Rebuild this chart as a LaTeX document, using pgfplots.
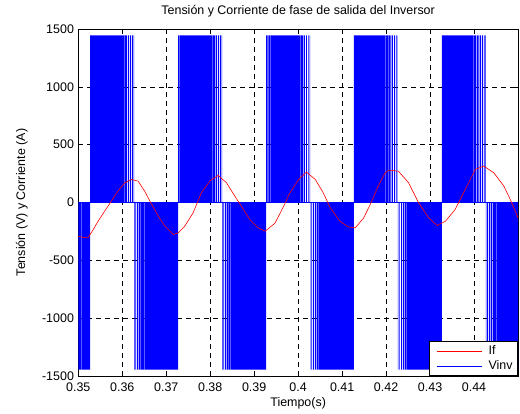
\documentclass[border=0pt]{standalone}
\usepackage{fontspec}
\setmainfont{Liberation Sans}
\usepackage{pgfplots}
\pgfplotsset{compat=1.18}
\begin{document}
\fontsize{12.5}{15}\selectfont
\begin{tikzpicture}
\path[use as bounding box] (-78.3bp,-38bp) rectangle (441.7bp,376bp);
\begin{axis}[
  at={(0,0)}, anchor=south west,
  scale only axis, width=439.7bp, height=347bp,
  xmin=0.35, xmax=0.45, ymin=-1500, ymax=1500,
  xtick={0.35,0.36,0.37,0.38,0.39,0.40,0.41,0.42,0.43,0.44},
  ytick={-1500,-1000,-500,0,500,1000,1500},
  tick align=inside, major tick length=5bp,
  grid=major,
  major grid style={black, line width=0.5bp, dash pattern=on 5bp off 4bp},
  axis line style={black, line width=0.9bp},
  tick style={black, line width=0.6bp},
  /pgf/number format/assume math mode=true,
  xticklabel style={/pgf/number format/fixed, /pgf/number format/precision=2, font=\fontsize{12.5}{15}\selectfont, yshift=-2bp},
  yticklabel style={/pgf/number format/1000 sep={}, font=\fontsize{12.5}{15}\selectfont},
  title={Tensión y Corriente de fase de salida del Inversor},
  title style={font=\fontsize{12.5}{15}\selectfont, yshift=2bp},
  xlabel={Tiempo(s)},
  xlabel style={yshift=2bp},
  ylabel={Tensión (V) y Corriente (A)},
  ylabel style={yshift=6bp},
  label style={font=\fontsize{12.5}{15}\selectfont},
  pwm/.style={const plot, fill=blue, draw=none, forget plot},
  legend style={at={(1,0)}, anchor=south east, draw=black, line width=0.8bp, fill=white,
    font=\fontsize{12.5}{15}\selectfont, legend cell align=left},
  legend image code/.code={\draw[#1, line width=0.6bp] (0bp,0bp) -- (45bp,0bp); \path[draw=none, fill=none] (-4bp,-3bp) rectangle (50bp,3bp);},
]
% negative burst 0
\addplot[pwm] coordinates {(0.35000,-1445)(0.35070,0)(0.35080,-1445)(0.35147,0)(0.35157,-1445)(0.35210,0)(0.35215,-1445)(0.35270,-1445)} \closedcycle;
% positive bursts
\addplot[pwm] coordinates {(0.35270,1445)(0.35290,0)(0.35298,1445)(0.35325,0)(0.35332,1445)(0.35365,0)(0.35372,1445)(0.35410,0)(0.35416,1445)(0.35460,0)(0.35465,1445)(0.35520,0)(0.35525,1445)(0.35590,0)(0.35594,1445)(0.35700,0)(0.35703,1445)(0.35890,0)(0.35894,1445)(0.35980,0)(0.35988,1445)(0.36050,0)(0.36062,1445)(0.36105,0)(0.36125,1445)(0.36155,0)(0.36180,1445)(0.36200,0)(0.36225,1445)(0.36240,0)(0.36260,1445)(0.36270,1445)} \closedcycle;
\addplot[pwm] coordinates {(0.37270,1445)(0.37290,0)(0.37298,1445)(0.37325,0)(0.37332,1445)(0.37365,0)(0.37372,1445)(0.37410,0)(0.37416,1445)(0.37460,0)(0.37465,1445)(0.37520,0)(0.37525,1445)(0.37590,0)(0.37594,1445)(0.37700,0)(0.37703,1445)(0.37890,0)(0.37894,1445)(0.37980,0)(0.37988,1445)(0.38050,0)(0.38062,1445)(0.38105,0)(0.38125,1445)(0.38155,0)(0.38180,1445)(0.38200,0)(0.38225,1445)(0.38240,0)(0.38260,1445)(0.38270,1445)} \closedcycle;
\addplot[pwm] coordinates {(0.39270,1445)(0.39290,0)(0.39298,1445)(0.39325,0)(0.39332,1445)(0.39365,0)(0.39372,1445)(0.39410,0)(0.39416,1445)(0.39460,0)(0.39465,1445)(0.39520,0)(0.39525,1445)(0.39590,0)(0.39594,1445)(0.39700,0)(0.39703,1445)(0.39890,0)(0.39894,1445)(0.39980,0)(0.39988,1445)(0.40050,0)(0.40062,1445)(0.40105,0)(0.40125,1445)(0.40155,0)(0.40180,1445)(0.40200,0)(0.40225,1445)(0.40240,0)(0.40260,1445)(0.40270,1445)} \closedcycle;
\addplot[pwm] coordinates {(0.41270,1445)(0.41290,0)(0.41298,1445)(0.41325,0)(0.41332,1445)(0.41365,0)(0.41372,1445)(0.41410,0)(0.41416,1445)(0.41460,0)(0.41465,1445)(0.41520,0)(0.41525,1445)(0.41590,0)(0.41594,1445)(0.41700,0)(0.41703,1445)(0.41890,0)(0.41894,1445)(0.41980,0)(0.41988,1445)(0.42050,0)(0.42062,1445)(0.42105,0)(0.42125,1445)(0.42155,0)(0.42180,1445)(0.42200,0)(0.42225,1445)(0.42240,0)(0.42260,1445)(0.42270,1445)} \closedcycle;
\addplot[pwm] coordinates {(0.43270,1445)(0.43290,0)(0.43298,1445)(0.43325,0)(0.43332,1445)(0.43365,0)(0.43372,1445)(0.43410,0)(0.43416,1445)(0.43460,0)(0.43465,1445)(0.43520,0)(0.43525,1445)(0.43590,0)(0.43594,1445)(0.43700,0)(0.43703,1445)(0.43890,0)(0.43894,1445)(0.43980,0)(0.43988,1445)(0.44050,0)(0.44062,1445)(0.44105,0)(0.44125,1445)(0.44155,0)(0.44180,1445)(0.44200,0)(0.44225,1445)(0.44240,0)(0.44260,1445)(0.44270,1445)} \closedcycle;
% negative bursts
\addplot[pwm] coordinates {(0.36270,-1445)(0.36280,0)(0.36300,-1445)(0.36315,0)(0.36340,-1445)(0.36360,0)(0.36380,-1445)(0.36405,0)(0.36420,-1445)(0.36455,0)(0.36465,-1445)(0.36510,0)(0.36517,-1445)(0.36580,0)(0.36585,-1445)(0.36670,0)(0.36673,-1445)(0.36850,0)(0.36853,-1445)(0.36950,0)(0.36955,-1445)(0.37020,0)(0.37025,-1445)(0.37080,0)(0.37086,-1445)(0.37130,0)(0.37136,-1445)(0.37180,0)(0.37186,-1445)(0.37225,0)(0.37230,-1445)(0.37270,-1445)} \closedcycle;
\addplot[pwm] coordinates {(0.38270,-1445)(0.38280,0)(0.38300,-1445)(0.38315,0)(0.38340,-1445)(0.38360,0)(0.38380,-1445)(0.38405,0)(0.38420,-1445)(0.38455,0)(0.38465,-1445)(0.38510,0)(0.38517,-1445)(0.38580,0)(0.38585,-1445)(0.38670,0)(0.38673,-1445)(0.38850,0)(0.38853,-1445)(0.38950,0)(0.38955,-1445)(0.39020,0)(0.39025,-1445)(0.39080,0)(0.39086,-1445)(0.39130,0)(0.39136,-1445)(0.39180,0)(0.39186,-1445)(0.39225,0)(0.39230,-1445)(0.39270,-1445)} \closedcycle;
\addplot[pwm] coordinates {(0.40270,-1445)(0.40280,0)(0.40300,-1445)(0.40315,0)(0.40340,-1445)(0.40360,0)(0.40380,-1445)(0.40405,0)(0.40420,-1445)(0.40455,0)(0.40465,-1445)(0.40510,0)(0.40517,-1445)(0.40580,0)(0.40585,-1445)(0.40670,0)(0.40673,-1445)(0.40850,0)(0.40853,-1445)(0.40950,0)(0.40955,-1445)(0.41020,0)(0.41025,-1445)(0.41080,0)(0.41086,-1445)(0.41130,0)(0.41136,-1445)(0.41180,0)(0.41186,-1445)(0.41225,0)(0.41230,-1445)(0.41270,-1445)} \closedcycle;
\addplot[pwm] coordinates {(0.42270,-1445)(0.42280,0)(0.42300,-1445)(0.42315,0)(0.42340,-1445)(0.42360,0)(0.42380,-1445)(0.42405,0)(0.42420,-1445)(0.42455,0)(0.42465,-1445)(0.42510,0)(0.42517,-1445)(0.42580,0)(0.42585,-1445)(0.42670,0)(0.42673,-1445)(0.42850,0)(0.42853,-1445)(0.42950,0)(0.42955,-1445)(0.43020,0)(0.43025,-1445)(0.43080,0)(0.43086,-1445)(0.43130,0)(0.43136,-1445)(0.43180,0)(0.43186,-1445)(0.43225,0)(0.43230,-1445)(0.43270,-1445)} \closedcycle;
\addplot[pwm] coordinates {(0.44270,-1445)(0.44280,0)(0.44300,-1445)(0.44315,0)(0.44340,-1445)(0.44360,0)(0.44380,-1445)(0.44405,0)(0.44420,-1445)(0.44455,0)(0.44465,-1445)(0.44510,0)(0.44517,-1445)(0.44580,0)(0.44585,-1445)(0.44670,0)(0.44673,-1445)(0.44850,0)(0.44853,-1445)(0.44950,0)(0.44955,-1445)(0.45000,-1445)} \closedcycle;
% zero level of Vinv
\addplot[blue, line width=0.9bp, forget plot] coordinates {(0.35,0)(0.45,0)};
% If
\addplot[red, line width=0.6bp, forget plot] coordinates {
(0.3500,-292)(0.3511,-302)(0.3522,-306)(0.3533,-240)(0.3545,-162)(0.3560,-75)(0.3575,11)(0.3590,98)(0.3606,171)(0.3621,199)(0.3636,185)(0.3651,98)(0.3663,11)(0.3682,-119)(0.3697,-205)(0.3716,-277)(0.3727,-263)(0.3742,-205)(0.3761,-90)(0.3780,84)(0.3799,185)(0.3818,234)(0.3837,171)(0.3856,55)(0.3871,-32)(0.3890,-147)(0.3909,-219)(0.3925,-248)(0.3947,-180)(0.3958,-100)(0.3970,-10)(0.3980,75)(0.4001,199)(0.4019,263)(0.4039,199)(0.4057,84)(0.4073,-46)(0.4095,-162)(0.4114,-211)(0.4130,-219)(0.4149,-133)(0.4164,-17)(0.4183,150)(0.4198,257)(0.4206,280)(0.4228,271)(0.4251,171)(0.4274,-3)(0.4297,-133)(0.4316,-199)(0.4335,-162)(0.4357,-61)(0.4380,113)(0.4403,286)(0.4422,315)(0.4445,257)(0.4468,141)(0.4486,-3)(0.4500,-133)};
\addlegendimage{red}
\addlegendentry{If}
\addlegendimage{blue}
\addlegendentry{Vinv}
\end{axis}
\end{tikzpicture}
\end{document}
